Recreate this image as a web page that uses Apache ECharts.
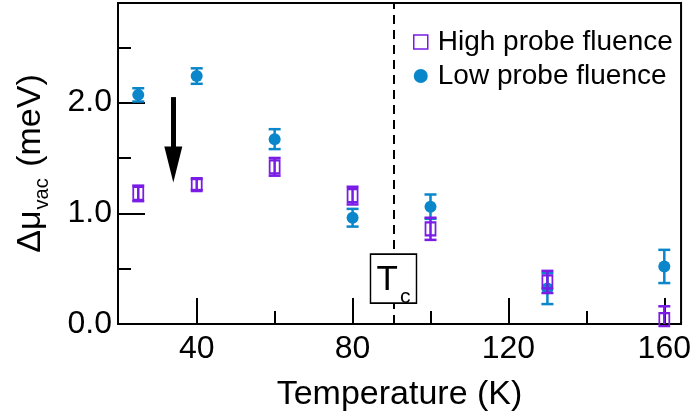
<!DOCTYPE html>
<html>
<head>
<meta charset="utf-8">
<script src="https://cdn.jsdelivr.net/npm/echarts@6/dist/echarts.min.js"></script>
<style>
  html, body { margin: 0; padding: 0; background: #fff; }
  #chart { width: 694px; height: 417px; }
</style>
</head>
<body>
<div id="chart"></div>
<script>
// temperatures (K)
const temps = [25, 40, 60, 80, 100, 130, 160]
// high probe fluence
const highVals = [1.18, 1.26, 1.42, 1.16, 0.86, 0.38, 0.04]
const highErr = [0.07, 0.05, 0.08, 0.08, 0.10, 0.10, 0.12]
// low probe fluence
const lowVals = [2.07, 2.24, 1.67, 0.96, 1.06, 0.32, 0.52]
const lowErr = [0.06, 0.07, 0.09, 0.08, 0.11, 0.14, 0.15]

const xMajor = [40, 80, 120, 160]
const xMinor = [60, 100, 140]
const yMajor = [0, 1, 2]
const yMinor = [0.5, 1.5, 2.5]

// annotations
const tc = 90.5
const arrowX = 34
const arrowFrom = 2.05
const arrowTo = 1.44

const purple = '#7a1be6'
const blue = '#0a86ca'
const font = 'Liberation Sans, Arial, sans-serif'

const chart = echarts.init(document.getElementById('chart'))

// 误差棒
const errorBars = (color) => (params, api) => {
  const x = api.value(0)
  const y = api.value(1)
  const e = api.value(2)
  const lo = api.coord([x, y - e])
  const hi = api.coord([x, y + e])
  const w = 6
  const style = { stroke: color, lineWidth: 2.5 }
  return {
    type: 'group',
    children: [
      { type: 'line', shape: { x1: lo[0], y1: lo[1], x2: hi[0], y2: hi[1] }, style },
      { type: 'line', shape: { x1: lo[0] - w, y1: lo[1], x2: lo[0] + w, y2: lo[1] }, style },
      { type: 'line', shape: { x1: hi[0] - w, y1: hi[1], x2: hi[0] + w, y2: hi[1] }, style }
    ]
  }
}

const tickStyle = { color: '#000', width: 2 }

const option = {
  animation: false,
  grid: {
    left: 118,
    right: 7,
    top: 3,
    bottom: 92,
    show: true,
    borderColor: '#000',
    borderWidth: 2
  },
  legend: {
    orient: 'vertical',
    left: 408,
    top: 23,
    itemWidth: 14,
    itemHeight: 14,
    itemGap: 6,
    selectedMode: false,
    textStyle: { fontSize: 28, lineHeight: 28, fontFamily: font, color: '#000', padding: [0, 0, 0, 5] },
    data: [
      { name: 'High probe fluence', icon: 'rect', itemStyle: { color: 'rgba(0,0,0,0)', borderColor: purple, borderWidth: 1.5 } },
      { name: 'Low probe fluence', icon: 'circle', itemStyle: { color: blue } }
    ]
  },
  xAxis: [
    {
      type: 'value',
      min: 19.8,
      max: 164.3,
      name: 'Temperature (K)',
      nameLocation: 'middle',
      nameGap: 54,
      nameTextStyle: { fontSize: 34, fontFamily: font, color: '#000' },
      axisLine: { lineStyle: { color: '#000', width: 2 } },
      axisTick: { inside: true, length: 26, lineStyle: tickStyle, customValues: xMajor },
      axisLabel: { customValues: xMajor, fontSize: 32, fontFamily: font, color: '#000', margin: 9 },
      splitLine: { show: false }
    },
    {
      type: 'value',
      min: 19.8,
      max: 164.3,
      position: 'bottom',
      axisLine: { show: false },
      axisTick: { inside: true, length: 13, lineStyle: tickStyle, customValues: xMinor },
      axisLabel: { show: false },
      splitLine: { show: false }
    }
  ],
  yAxis: [
    {
      type: 'value',
      min: 0,
      max: 2.9,
      name: '{a|Δμ}{b|vac}{a| (meV)}',
      nameLocation: 'middle',
      nameGap: 70,
      nameRotate: 90,
      nameTextStyle: {
        color: '#000',
        rich: {
          a: { fontSize: 34, lineHeight: 34, fontFamily: font, color: '#000', verticalAlign: 'top' },
          b: { fontSize: 20, lineHeight: 20, fontFamily: font, color: '#000', verticalAlign: 'top', padding: [18, 2, 0, 1] }
        }
      },
      axisLine: { show: true, lineStyle: { color: '#000', width: 2 } },
      axisTick: { show: true, inside: true, length: 27, lineStyle: tickStyle, customValues: yMajor },
      axisLabel: {
        customValues: yMajor,
        formatter: (v) => v.toFixed(1),
        fontSize: 32,
        fontFamily: font,
        color: '#000',
        margin: 6
      },
      splitLine: { show: false }
    },
    {
      type: 'value',
      min: 0,
      max: 2.9,
      position: 'left',
      axisLine: { show: false },
      axisTick: { show: true, inside: true, length: 13, lineStyle: tickStyle, customValues: yMinor },
      axisLabel: { show: false },
      splitLine: { show: false }
    }
  ],
  series: [
    {
      type: 'custom',
      name: 'lowErr',
      renderItem: errorBars(blue),
      clip: true,
      encode: { x: 0, y: 1 },
      data: temps.map((t, i) => [t, lowVals[i], lowErr[i]]),
      z: 2,
      markLine: {
        silent: true,
        symbol: 'none',
        label: { show: false },
        lineStyle: { color: '#000', width: 2, type: [9, 6] },
        data: [{ xAxis: tc }]
      }
    },
    {
      type: 'scatter',
      name: 'Low probe fluence',
      symbol: 'circle',
      symbolSize: 12,
      itemStyle: { color: blue, opacity: 1 },
      data: temps.map((t, i) => [t, lowVals[i]]),
      z: 3
    },
    {
      type: 'custom',
      name: 'highErr',
      renderItem: errorBars(purple),
      clip: true,
      encode: { x: 0, y: 1 },
      data: temps.map((t, i) => [t, highVals[i], highErr[i]]),
      z: 4
    },
    {
      type: 'scatter',
      name: 'High probe fluence',
      symbol: 'rect',
      symbolSize: [10, 13],
      itemStyle: { color: 'rgba(0,0,0,0)', borderColor: purple, borderWidth: 2, opacity: 1 },
      data: temps.map((t, i) => [t, highVals[i]]),
      z: 5,
      markLine: {
        silent: true,
        symbol: ['none', 'triangle'],
        symbolSize: [18, 36],
        label: { show: false },
        lineStyle: { color: '#000', width: 5, type: 'solid' },
        itemStyle: { color: '#000' },
        data: [[{ coord: [arrowX, arrowFrom] }, { coord: [arrowX, arrowTo] }]]
      },
      markPoint: {
        silent: true,
        symbol: 'rect',
        symbolSize: [46, 49],
        itemStyle: { color: '#fff', borderColor: '#000', borderWidth: 1.5 },
        label: {
          show: true,
          position: 'inside',
          offset: [0, 2],
          formatter: '{t|T}{c|c}',
          rich: {
            t: { fontSize: 35, lineHeight: 35, fontFamily: font, color: '#000', verticalAlign: 'top' },
            c: { fontSize: 21, lineHeight: 21, fontFamily: font, color: '#000', verticalAlign: 'top', padding: [24, 0, 0, 2] }
          }
        },
        data: [{ coord: [tc, 0.41] }]
      }
    }
  ]
}

chart.setOption(option)
</script>
</body>
</html>
